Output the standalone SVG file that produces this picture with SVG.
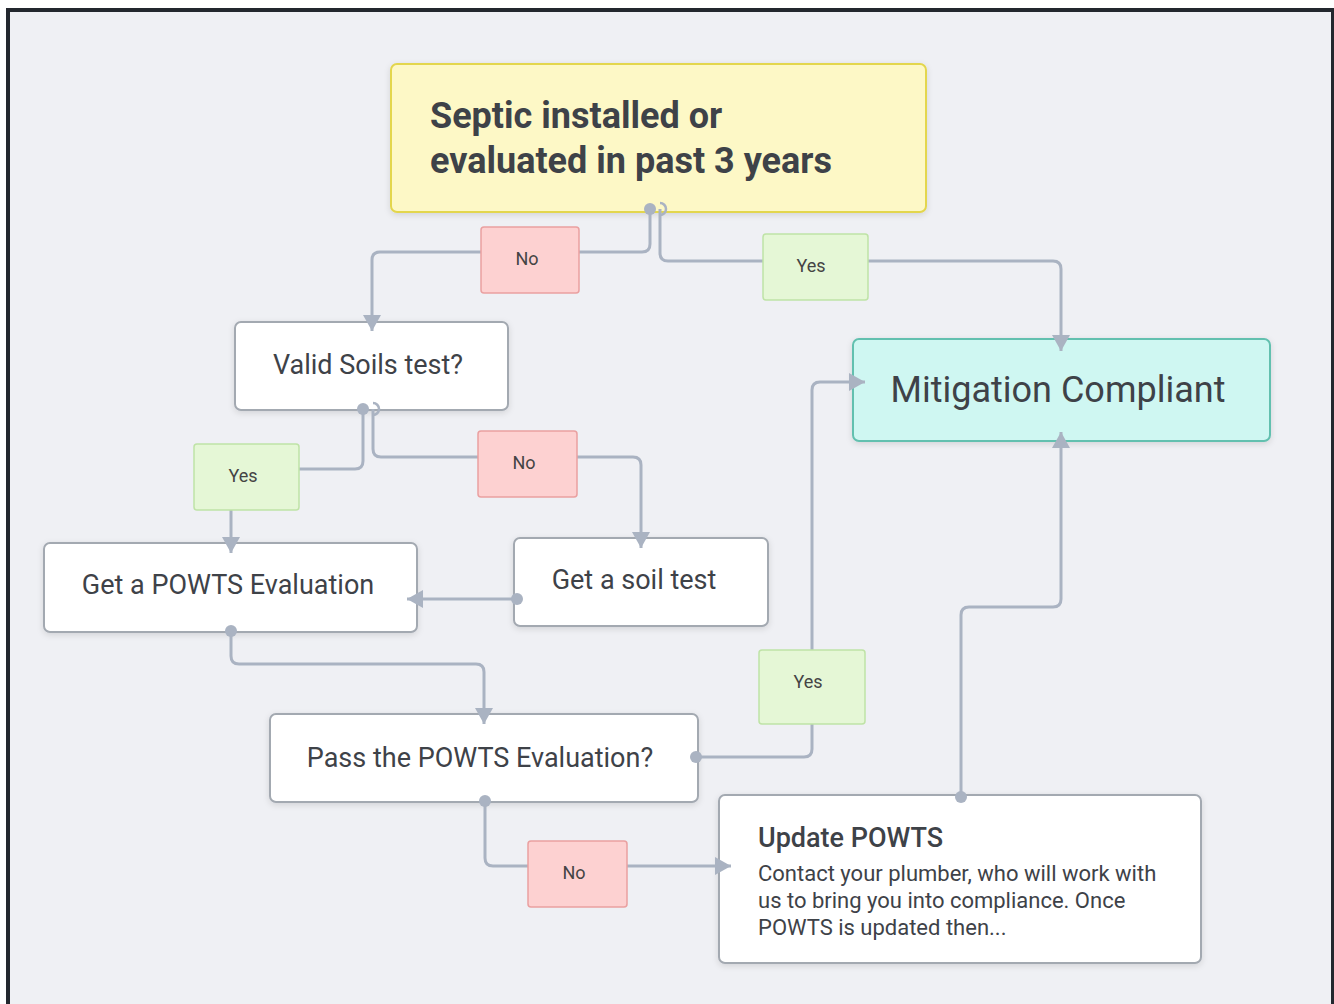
<svg xmlns="http://www.w3.org/2000/svg" width="1334" height="1004" viewBox="0 0 1334 1004">
<defs>
<style>
.node{fill:#ffffff;stroke:#a3a9b1;stroke-width:2;filter:url(#sh)}
.t{font-family:Roboto,"Liberation Sans",sans-serif;fill:#3e4248}
.conn{fill:none;stroke:#aab3c2;stroke-width:3;stroke-linejoin:round}
.dot{fill:#aab3c2}
.half{fill:none;stroke:#aab3c2;stroke-width:2.5}
.no{fill:#fdd1d1;stroke:#eaa0a0;stroke-width:1.5}
.yes{fill:#e5f7d6;stroke:#bfe3a6;stroke-width:1.5}
.lbl{font-family:Roboto,"Liberation Sans",sans-serif;font-size:18px;fill:#444;text-anchor:middle}
</style>
<filter id="sh" x="-10%" y="-10%" width="120%" height="130%">
<feDropShadow dx="0" dy="2" stdDeviation="3" flood-color="#000" flood-opacity="0.12"/>
</filter>
<marker id="arr" viewBox="0 0 16 18" refX="16" refY="9" markerWidth="16" markerHeight="18" orient="auto" markerUnits="userSpaceOnUse">
<path d="M0,0 L16,9 L0,18 z" fill="#aab3c2"/>
</marker>
</defs>
<rect x="0" y="0" width="1334" height="1004" fill="#ffffff"/>
<rect x="8" y="10" width="1325" height="1000" fill="#eff0f4" stroke="#23272e" stroke-width="4"/>

<g id="n-septic">
<rect x="391" y="64" width="535" height="148" rx="6" fill="#fdf8c6" stroke="#e3d64e" stroke-width="2" filter="url(#sh)"/>
<text class="t" x="430" y="128" font-size="36" font-weight="bold">Septic installed or</text>
<text class="t" x="430" y="173" font-size="36" font-weight="bold">evaluated in past 3 years</text>
</g>

<g id="n-valid">
<rect class="node" x="235" y="322" width="273" height="88" rx="6"/>
<text class="t" x="368" y="374" font-size="27" text-anchor="middle">Valid Soils test?</text>
</g>

<g id="n-mitigation">
<rect x="853" y="339" width="417" height="102" rx="6" fill="#cff7f2" stroke="#62c0af" stroke-width="2" filter="url(#sh)"/>
<text class="t" x="1058" y="402" font-size="36" text-anchor="middle" fill="#2f4747">Mitigation Compliant</text>
</g>

<g id="n-getpowts">
<rect class="node" x="44" y="543" width="373" height="89" rx="6"/>
<text class="t" x="228" y="594" font-size="27" text-anchor="middle">Get a POWTS Evaluation</text>
</g>

<g id="n-soiltest">
<rect class="node" x="514" y="538" width="254" height="88" rx="6"/>
<text class="t" x="634" y="589" font-size="27" text-anchor="middle">Get a soil test</text>
</g>

<g id="n-pass">
<rect class="node" x="270" y="714" width="428" height="88" rx="6"/>
<text class="t" x="480" y="767" font-size="27" text-anchor="middle">Pass the POWTS Evaluation?</text>
</g>

<g id="n-update">
<rect class="node" x="719" y="795" width="482" height="168" rx="6"/>
<text class="t" x="758" y="847" font-size="27" font-weight="500">Update POWTS</text>
<text class="t" x="758" y="881" font-size="22" fill="#7d8188">Contact your plumber, who will work with</text>
<text class="t" x="758" y="908" font-size="22" fill="#7d8188">us to bring you into compliance. Once</text>
<text class="t" x="758" y="935" font-size="22" fill="#7d8188">POWTS is updated then...</text>
</g>

<g id="connectors">
<path class="conn" d="M650,209 V244 Q650,252 642,252 H380 Q372,252 372,260 V331" marker-end="url(#arr)"/>
<path class="conn" d="M660,209 V253 Q660,261 668,261 H1053 Q1061,261 1061,269 V351" marker-end="url(#arr)"/>
<path class="conn" d="M363,409 V461 Q363,469 355,469 H239 Q231,469 231,477 V553" marker-end="url(#arr)"/>
<path class="conn" d="M373,409 V449 Q373,457 381,457 H633 Q641,457 641,465 V548" marker-end="url(#arr)"/>
<path class="conn" d="M517,599 H407" marker-end="url(#arr)"/>
<path class="conn" d="M231,631 V656 Q231,664 239,664 H476 Q484,664 484,672 V724" marker-end="url(#arr)"/>
<path class="conn" d="M696,757 H804 Q812,757 812,749 V390 Q812,382 820,382 H865" marker-end="url(#arr)"/>
<path class="conn" d="M485,801 V858 Q485,866 493,866 H731" marker-end="url(#arr)"/>
<path class="conn" d="M961,797 V615 Q961,607 969,607 H1053 Q1061,607 1061,599 V432" marker-end="url(#arr)"/>
</g>

<g id="ports">
<circle class="dot" cx="650" cy="209" r="6"/>
<path class="half" d="M660,203 A6,6 0 0 1 660,215"/>
<circle class="dot" cx="363" cy="409" r="6"/>
<path class="half" d="M373,403 A6,6 0 0 1 373,415"/>
<circle class="dot" cx="517" cy="599" r="6"/>
<circle class="dot" cx="231" cy="631" r="6"/>
<circle class="dot" cx="696" cy="757" r="6"/>
<circle class="dot" cx="485" cy="801" r="6"/>
<circle class="dot" cx="961" cy="797" r="6"/>
</g>

<g id="labels">
<rect class="no" x="481" y="227" width="98" height="66" rx="3"/>
<text class="lbl" x="527" y="265">No</text>
<rect class="yes" x="763" y="234" width="105" height="66" rx="3"/>
<text class="lbl" x="811" y="272">Yes</text>
<rect class="yes" x="194" y="444" width="105" height="66" rx="3"/>
<text class="lbl" x="243" y="482">Yes</text>
<rect class="no" x="478" y="431" width="99" height="66" rx="3"/>
<text class="lbl" x="524" y="469">No</text>
<rect class="yes" x="759" y="650" width="106" height="74" rx="3"/>
<text class="lbl" x="808" y="688">Yes</text>
<rect class="no" x="528" y="841" width="99" height="66" rx="3"/>
<text class="lbl" x="574" y="879">No</text>
</g>
</svg>
